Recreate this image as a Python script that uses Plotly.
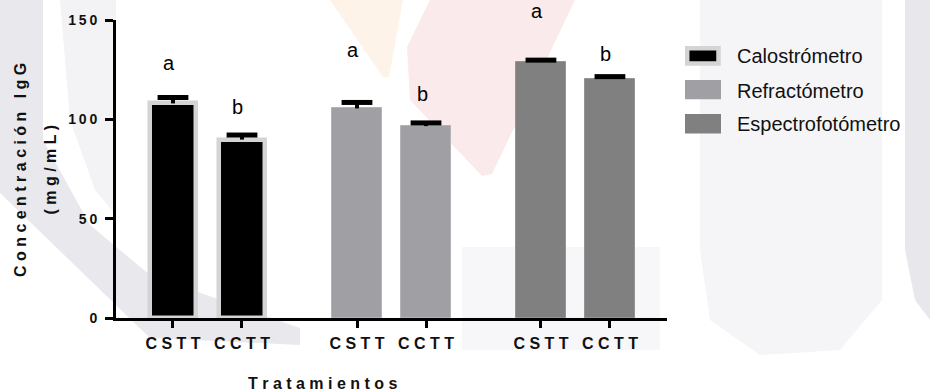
import plotly.graph_objects as go

# --- data -------------------------------------------------------------
tratamientos = ["CSTT", "CCTT"]
instrumentos = ["Calostrómetro", "Refractómetro", "Espectrofotómetro"]

calostrometro = [108.0, 89.8]
refractometro = [105.5, 96.6]
espectrofotometro = [128.8, 120.3]

err_calostrometro = [3.0, 2.3]
err_refractometro = [3.0, 1.6]
err_espectrofotometro = [1.0, 1.2]

letras = ["a", "b"]
y_letras_calostrometro = [128.3, 106.2]
y_letras_refractometro = [135.0, 112.7]
y_letras_espectrofotometro = [154.5, 132.9]

y_ticks = [0, 50, 100, 150]
y_max = 150

# x position of each pair of bars (gap between instrument groups)
pos_grupos = [0.0, 2.667, 5.333]

# --- layout constants (pixels) -----------------------------------------
W, H = 930, 391
L, R, T, B = 116, 667, 20, 318
FONT = "Liberation Sans, Arial, sans-serif"


def espaciado(texto, sep=" "):
    return sep.join(texto)


def px(xp):
    return (xp - L) / (R - L)


def py(yp):
    return (B - yp) / (B - T)


series = [
    (instrumentos[0], calostrometro, err_calostrometro, y_letras_calostrometro,
     "#000000", "#d4d4d6", 4.5, 0.66),
    (instrumentos[1], refractometro, err_refractometro, y_letras_refractometro,
     "#a09fa4", "#b4b3b8", 1.0, 0.725),
    (instrumentos[2], espectrofotometro, err_espectrofotometro, y_letras_espectrofotometro,
     "#808080", "#949494", 1.0, 0.725),
]

fig = go.Figure()
annotations = []
tickvals, ticktext = [], []

for (nombre, vals, errs, yl, color, borde, lw, ancho), x0 in zip(series, pos_grupos):
    xs = [x0 + i for i in range(len(vals))]
    fig.add_trace(go.Bar(
        x=xs, y=vals, name=nombre, width=ancho,
        marker=dict(color=color, line=dict(color=borde, width=lw)),
        showlegend=False, cliponaxis=False,
    ))
    # upper-only error bar: cap marker at mean+SEM, stem down to the bar top
    fig.add_trace(go.Scatter(
        x=xs, y=[v + e for v, e in zip(vals, errs)], mode="markers",
        marker=dict(symbol="line-ew", size=22, color="#000000",
                    line=dict(color="#000000", width=5)),
        error_y=dict(type="data", array=[0] * len(errs), arrayminus=errs,
                     symmetric=False, color="#000000", thickness=4, width=0),
        showlegend=False, cliponaxis=False, hoverinfo="skip",
    ))
    for xv, t in zip(xs, tratamientos):
        tickvals.append(xv)
        ticktext.append(espaciado(t))
    for xv, y, letra in zip(xs, yl, letras):
        annotations.append(dict(
            x=xv, y=y / y_max, xref="x", yref="paper", text=letra, showarrow=False,
            xshift=-4, yanchor="middle",
            font=dict(family=FONT, size=20, color="#000000"),
        ))

# axis titles
titulo_font = dict(family=FONT, size=16, color="#111111", weight="bold")
annotations.append(dict(
    x=px(20), y=py(170), xref="paper", yref="paper", showarrow=False,
    text=espaciado("Concentración IgG"), textangle=-90,
    xanchor="center", yanchor="middle", font=titulo_font,
))
annotations.append(dict(
    x=px(49.5), y=py(170), xref="paper", yref="paper", showarrow=False,
    text=espaciado("(mg/mL)"), textangle=-90,
    xanchor="center", yanchor="middle", font=titulo_font,
))
annotations.append(dict(
    x=px(322), y=py(383), xref="paper", yref="paper", showarrow=False,
    text=espaciado("Tratamientos"), xanchor="center", yanchor="middle",
    font=titulo_font,
))

# legend drawn as swatches + labels
shapes = []
swatches = [
    (instrumentos[0], "#000000", "#d4d4d6", 4.5, (687.2, 48.2, 718.5, 63.5), 56.5),
    (instrumentos[1], "#a09fa4", "#a09fa4", 0.0, (685, 80, 721, 99.3), 90.5),
    (instrumentos[2], "#808080", "#808080", 0.0, (685, 114, 721, 133.5), 124.5),
]
for nombre, fill, borde, lw, (x0, y0, x1, y1), ytxt in swatches:
    shapes.append(dict(
        type="rect", xref="paper", yref="paper",
        x0=px(x0), x1=px(x1), y0=py(y1), y1=py(y0),
        fillcolor=fill, line=dict(color=borde, width=lw), layer="above",
    ))
    annotations.append(dict(
        x=px(735), y=py(ytxt), xref="paper", yref="paper", showarrow=False,
        text=nombre, xanchor="left", yanchor="middle",
        font=dict(family=FONT, size=20, color="#111111"),
    ))


# faint background watermark
def poligono(puntos, color):
    d = "M " + " L ".join(f"{px(a):.4f},{py(b):.4f}" for a, b in puntos) + " Z"
    return dict(type="path", xref="paper", yref="paper", path=d,
                fillcolor=color, line=dict(width=0), layer="below")


shapes += [
    poligono([(0, 0), (43, 0), (43, 140), (90, 225), (150, 275), (300, 328),
              (300, 345), (150, 338), (0, 193)], "#e9e9ed"),
    poligono([(60, 0), (116, 0), (116, 215), (95, 190), (70, 120)], "#f3f3f5"),
    poligono([(330, 0), (403, 0), (389, 77), (383, 77)], "#fdf3e8"),
    poligono([(430, 0), (575, 0), (492, 174), (482, 176), (410, 100), (407, 47)], "#faeaeb"),
    poligono([(462, 247), (660, 247), (660, 350), (462, 350)], "#f7f7f9"),
    poligono([(700, 0), (882, 0), (882, 300), (840, 350), (760, 355), (710, 320),
              (700, 250)], "#f5f5f7"),
    poligono([(905, 0), (930, 0), (930, 320), (915, 300), (905, 250)], "#e8e8ec"),
]

fig.update_layout(
    width=W, height=H,
    margin=dict(l=L, r=W - R, t=T, b=H - B, pad=0),
    paper_bgcolor="#ffffff", plot_bgcolor="rgba(0,0,0,0)",
    barmode="overlay", bargap=0,
    annotations=annotations, shapes=shapes,
    font=dict(family=FONT, color="#111111"),
    xaxis=dict(
        range=[-0.826, 7.16], tickvals=tickvals, ticktext=ticktext,
        showline=True, linewidth=3, linecolor="#000000", mirror=False,
        ticks="outside", ticklen=7, tickwidth=3, tickcolor="#000000",
        showgrid=False, zeroline=False, ticklabelstandoff=2,
        tickfont=dict(family=FONT, size=16, color="#111111", weight="bold"),
    ),
    yaxis=dict(
        range=[0, y_max], tickvals=y_ticks,
        ticktext=[espaciado(str(v), "\u2009") for v in y_ticks],
        showline=True, linewidth=3, linecolor="#000000",
        ticks="outside", ticklen=8, tickwidth=3, tickcolor="#000000",
        showgrid=False, zeroline=False, ticklabelstandoff=5,
        tickfont=dict(family=FONT, size=14, color="#111111", weight="bold"),
    ),
)

fig.write_html("out.html")
